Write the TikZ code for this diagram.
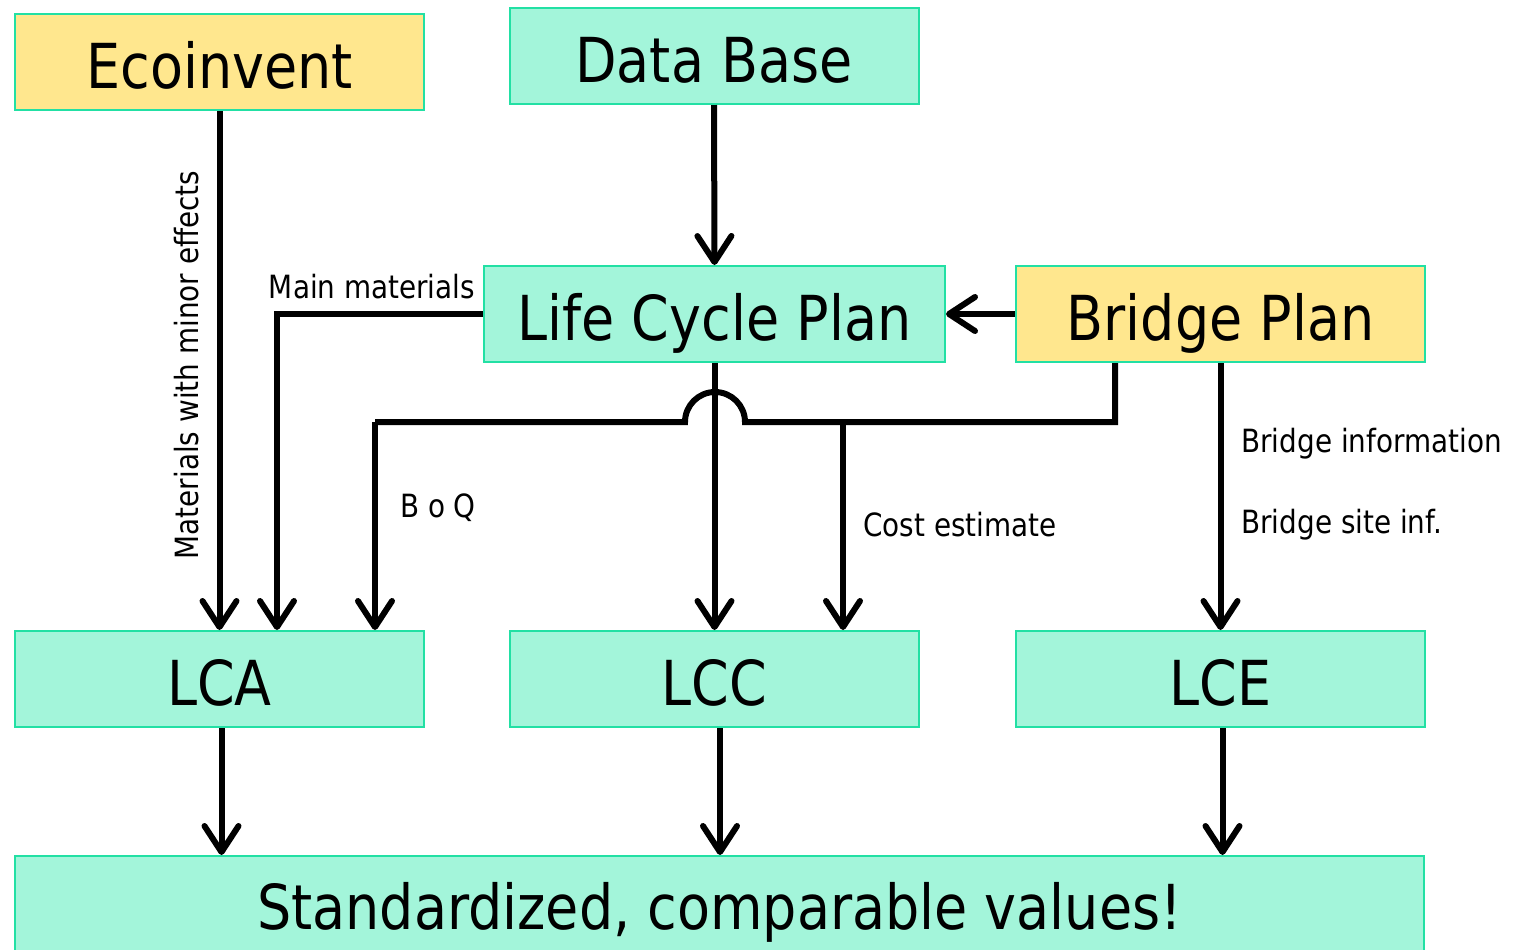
\documentclass[tikz,border=0pt]{standalone}
\usepackage{fontspec}
\setmainfont[FakeStretch=0.87]{DejaVu Sans}
\usetikzlibrary{calc,positioning,arrows.meta}
\definecolor{boxline}{HTML}{22E0A4}
\definecolor{tealfill}{HTML}{A3F5DA}
\definecolor{yelfill}{HTML}{FFE78E}
\begin{document}
\begin{tikzpicture}[x=0.5pt,y=-0.5pt,
  box/.style={draw=boxline,line width=1pt,inner sep=0pt,minimum width=204.5pt,minimum height=48pt,text height=26pt,text depth=0pt,font=\fontsize{31}{36}\selectfont},
  tbox/.style={box,fill=tealfill},
  ybox/.style={box,fill=yelfill},
  lbl/.style={font=\fontsize{16}{19}\selectfont,inner sep=1pt},
  arr/.style={line width=3pt,-{Straight Barb[length=13pt,width=17pt,round]}},
  lin/.style={line width=3pt}]
\useasboundingbox (0,0) rectangle (1524,949);
\node[ybox] (eco) at (219.5,62) {Ecoinvent};
\node[tbox] (db) at (714,56) {Data Base};
\node[tbox,minimum width=230.5pt] (lcp) at (714.5,314) {Life Cycle Plan};
\node[ybox] (bp) at (1220.5,314) {Bridge Plan};
\node[tbox] (lca) at (219.5,679) {LCA};
\node[tbox] (lcc) at (714,679) {LCC};
\node[tbox] (lce) at (1220.5,679) {LCE};
\node[tbox,minimum width=704.5pt,minimum height=52pt,text height=21pt,anchor=north] (std) at (719.5,855) {Standardized, comparable values!};
% junctions
\coordinate (bq) at (1115,422);
\coordinate (hopr) at (745,422);
\coordinate (boq) at (375,422);
\coordinate (cst) at (843,422);
\coordinate (mm) at (277,314);
% connectors
\draw[arr] (eco.south) -- (eco.south |- lca.north);
\draw[arr] (db.south) -- (lcp.north);
\draw[arr] (bp.west) -- (lcp.east);
\draw[arr] (lcp.west) -- (mm) -- (mm |- lca.north);
\draw[arr] (lcp.south) -- (lcp.south |- lcc.north);
\draw[lin] (bp.south -| bq) -- (bq) -- (hopr) arc[start angle=0,end angle=180,radius=15pt] -- (boq);
\draw[arr] (boq) -- (boq |- lca.north);
\draw[arr] (cst) -- (cst |- lcc.north);
\draw[arr] (bp.south) -- (bp.south |- lce.north);
\draw[arr] ([xshift=1pt]lca.south) -- ([xshift=1pt]lca.south |- std.north);
\draw[arr] ([xshift=3pt]lcc.south) -- ([xshift=3pt]lcc.south |- std.north);
\draw[arr] ([xshift=1pt]lce.south) -- ([xshift=1pt]lce.south |- std.north);
% labels
\node[lbl,rotate=90] (lmin) at (187,365) {Materials with minor effects};
\node[lbl] (lmain) at (372,287) {Main materials};
\node[lbl] (lboq) at (438,508) {B o Q};
\node[lbl,anchor=west] (lcost) at (861,525) {Cost estimate};
\node[lbl,anchor=west] (lbinf) at (1239,444) {Bridge information};
\node[lbl,anchor=west] (lbsite) at (1239,525) {Bridge site inf.};
\end{tikzpicture}
\end{document}
